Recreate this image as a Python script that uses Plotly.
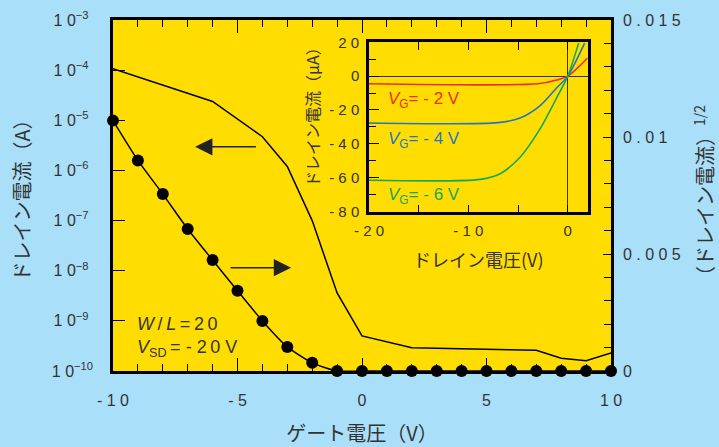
import plotly.graph_objects as go

# ---------------- data ----------------
# Main plot: gate voltage sweep
gate_v_log = [-10, -6, -4, -3, -2, -1, 0, 2, 7, 8, 9, 10]
drain_i_log = [1.07e-4, 2.37e-5, 4.7e-6, 1.2e-6, 1.0e-7, 3.6e-9, 5.0e-10,
               2.9e-10, 2.6e-10, 1.8e-10, 1.6e-10, 2.3e-10]

gate_v_sqrt = [-10, -9, -8, -7, -6, -5, -4, -3, -2, -1, 0, 1, 2, 3, 4, 5, 6, 7, 8, 9, 10]
sqrt_drain_i = [0.0107, 0.0090, 0.00756, 0.00607, 0.00474, 0.00343, 0.00214,
                0.00103, 0.00035, 0, 0, 0, 0, 0, 0, 0, 0, 0, 0, 0, 0]

# Inset: output characteristics (drain voltage V, drain current uA)
vd_m2 = [-20, -3, -1.1, 0, 2]
id_m2 = [-4.5, -4.5, -2.3, 0, 10.7]
vd_m4 = [-20, -7, -4.8, -2.8, -1.1, 0, 1.7]
id_m4 = [-27.7, -27.5, -24.8, -17.6, -6.9, 0, 19.5]
vd_m6 = [-20, -8.8, -6.8, -4.8, -2.8, -1.1, 0, 1.1]
id_m6 = [-61.5, -61, -57.7, -47.9, -31.3, -12.7, 0, 19.5]

x_tickvals = [-10, -5, 0, 5, 10]
x_ticktext = ["- 1 0", "- 5", "0", "5", "1 0"]
y_tickvals = [1e-10, 1e-9, 1e-8, 1e-7, 1e-6, 1e-5, 1e-4, 1e-3]
y_ticktext = ["1 0<sup>−10</sup>", "1 0<sup>−9</sup>\u00a0", "1 0<sup>−8</sup>\u00a0",
              "1 0<sup>−7</sup>\u00a0", "1 0<sup>−6</sup>\u00a0", "1 0<sup>−5</sup>\u00a0",
              "1 0<sup>−4</sup>\u00a0", "1 0<sup>−3</sup>\u00a0"]
y2_tickvals = [0, 0.005, 0.01, 0.015]
y2_ticktext = ["0", "0 . 0 0 5", "0 . 0 1", "0 . 0 1 5"]
ix_tickvals = [-20, -10, 0]
ix_ticktext = ["- 2 0", "- 1 0", "0"]
iy_tickvals = [-80, -60, -40, -20, 0, 20]
iy_ticktext = ["- 8 0", "- 6 0", "- 4 0", "- 2 0", "0", "2 0"]

# ---------------- style ----------------
TXT = "#333333"
BG = "#AADFF9"
LAT = "Liberation Sans, Arial, sans-serif"
JP = "Noto Sans CJK JP, sans-serif"
RED, BLUE, GREEN = "#EE2E24", "#1F78C1", "#13A85A"

fig = go.Figure()

fig.add_trace(go.Scatter(x=gate_v_log, y=drain_i_log, mode="lines",
                         line=dict(color="black", width=1.5),
                         xaxis="x", yaxis="y", showlegend=False))
fig.add_trace(go.Scatter(x=gate_v_sqrt, y=sqrt_drain_i, mode="lines+markers",
                         line=dict(color="black", width=1.5, shape="spline", smoothing=0.6),
                         marker=dict(color="black", size=12),
                         xaxis="x", yaxis="y2", cliponaxis=False, showlegend=False))

for vx, iy, col in [(vd_m2, id_m2, RED), (vd_m4, id_m4, BLUE), (vd_m6, id_m6, GREEN)]:
    fig.add_trace(go.Scatter(x=vx, y=iy, mode="lines",
                             line=dict(color=col, width=1.6, shape="spline", smoothing=0.8),
                             xaxis="x2", yaxis="y3", showlegend=False))

tickfont = dict(family=LAT, size=16, color=TXT)

fig.update_layout(
    width=719, height=447,
    margin=dict(l=113, r=108, t=20, b=76),
    paper_bgcolor=BG,
    plot_bgcolor="#FFDD00",
    xaxis=dict(domain=[0, 1], range=[-10, 10], anchor="y", automargin=False,
               tickvals=x_tickvals, ticktext=x_ticktext, tickfont=tickfont,
               ticks="inside", ticklen=13, tickwidth=1.2, tickcolor="black",
               minor=dict(dtick=1, ticks="inside", ticklen=7, tickwidth=1.2, tickcolor="black"),
               showline=True, linecolor="black", linewidth=2.5, mirror="ticks",
               showgrid=False, zeroline=False, ticklabelstandoff=13,
               title=dict(text="ゲート電圧（V）", font=dict(family=JP, size=20, color=TXT),
                          standoff=23)),
    yaxis=dict(type="log", range=[-10, -3], anchor="x", automargin=False,
               tickvals=y_tickvals, ticktext=y_ticktext, tickfont=tickfont,
               ticks="inside", ticklen=12, tickwidth=1.2, tickcolor="black",
               showline=True, linecolor="black", linewidth=2.5,
               showgrid=False, zeroline=False, ticklabelstandoff=14,
               title=dict(text="ドレイン電流（A）", font=dict(family=JP, size=20, color=TXT),
                          standoff=16)),
    yaxis2=dict(range=[0, 0.015], overlaying="y", side="right", anchor="x", automargin=False,
                tickvals=y2_tickvals, ticktext=y2_ticktext, tickfont=tickfont,
                ticks="inside", ticklen=8, tickwidth=1.2, tickcolor="black",
                minor=dict(dtick=0.001, ticks="inside", ticklen=7, tickwidth=1.2, tickcolor="black"),
                showline=True, linecolor="black", linewidth=2.5,
                showgrid=False, zeroline=False, ticklabelstandoff=6,
                title=dict(text="（ドレイン電流）<sup>1/2</sup>",
                           font=dict(family=JP, size=20, color=TXT), standoff=22)),
    xaxis2=dict(domain=[0.514, 0.953], range=[-20, 2], anchor="y3", automargin=False,
                tickvals=ix_tickvals, ticktext=ix_ticktext,
                tickfont=dict(family=LAT, size=15, color=TXT),
                ticks="inside", ticklen=8, tickwidth=1.2, tickcolor="black",
                minor=dict(dtick=5, ticks="inside", ticklen=8, tickwidth=1.2, tickcolor="black"),
                showline=True, linecolor="black", linewidth=2.5, mirror="ticks",
                showgrid=False, zeroline=True, zerolinecolor="#3a3300", zerolinewidth=1.2,
                ticklabelstandoff=3,
                title=dict(text="ドレイン電圧(V)", font=dict(family=JP, size=18, color=TXT),
                           standoff=17)),
    yaxis3=dict(domain=[0.452, 0.9365], range=[-80.5, 20], anchor="x2", automargin=False,
                tickvals=iy_tickvals, ticktext=iy_ticktext,
                tickfont=dict(family=LAT, size=15, color=TXT),
                ticks="inside", ticklen=10, tickwidth=1.2, tickcolor="black",
                minor=dict(dtick=10, ticks="inside", ticklen=7, tickwidth=1.2, tickcolor="black"),
                showline=True, linecolor="black", linewidth=2.5, mirror=True,
                showgrid=False, zeroline=True, zerolinecolor="#3a3300", zerolinewidth=1.2,
                ticklabelstandoff=4),
)

annos = [
    # inset y-axis title
    dict(x=0.3996, y=0.735, xref="paper", yref="paper", xanchor="center", yanchor="middle",
         showarrow=False, textangle=-90, text="ドレイン電流（μA）",
         font=dict(family=JP, size=16, color=TXT)),
    dict(x=-6.7, y=-5.53, ax=-4.2, ay=-5.53, xref="x", yref="y", axref="x", ayref="y",
         text="", showarrow=True, arrowhead=2, arrowsize=2.3, arrowwidth=1.5, arrowcolor="#222"),
    dict(x=-2.85, y=-7.94, ax=-5.34, ay=-7.94, xref="x", yref="y", axref="x", ayref="y",
         text="", showarrow=True, arrowhead=2, arrowsize=2.3, arrowwidth=1.5, arrowcolor="#222"),
    dict(x=-9.1, y=-9.06, xref="x", yref="y", xanchor="left", yanchor="middle", showarrow=False,
         text="<i>W</i>\u2009/\u2009<i>L</i>\u2009=\u20092\u20090",
         font=dict(family=LAT, size=18, color=TXT)),
    dict(x=-9.1, y=-9.55, xref="x", yref="y", xanchor="left", yanchor="middle", showarrow=False,
         text="<i>V</i><sub>SD</sub>\u2009= - 2\u20090 V",
         font=dict(family=LAT, size=18, color=TXT)),
    dict(x=-18.3, y=-14, xref="x2", yref="y3", xanchor="left", yanchor="middle", showarrow=False,
         text="<i>V</i><sub>G</sub>= - 2 V", font=dict(family=LAT, size=17, color=RED)),
    dict(x=-18.3, y=-38, xref="x2", yref="y3", xanchor="left", yanchor="middle", showarrow=False,
         text="<i>V</i><sub>G</sub>= - 4 V", font=dict(family=LAT, size=17, color=BLUE)),
    dict(x=-18.3, y=-71, xref="x2", yref="y3", xanchor="left", yanchor="middle", showarrow=False,
         text="<i>V</i><sub>G</sub>= - 6 V", font=dict(family=LAT, size=17, color=GREEN)),
]
fig.update_layout(annotations=annos)

fig.write_html("out.html", config={"displayModeBar": False},
               post_script="document.body.style.margin='0';"
                           "document.body.style.background='" + BG + "';")
